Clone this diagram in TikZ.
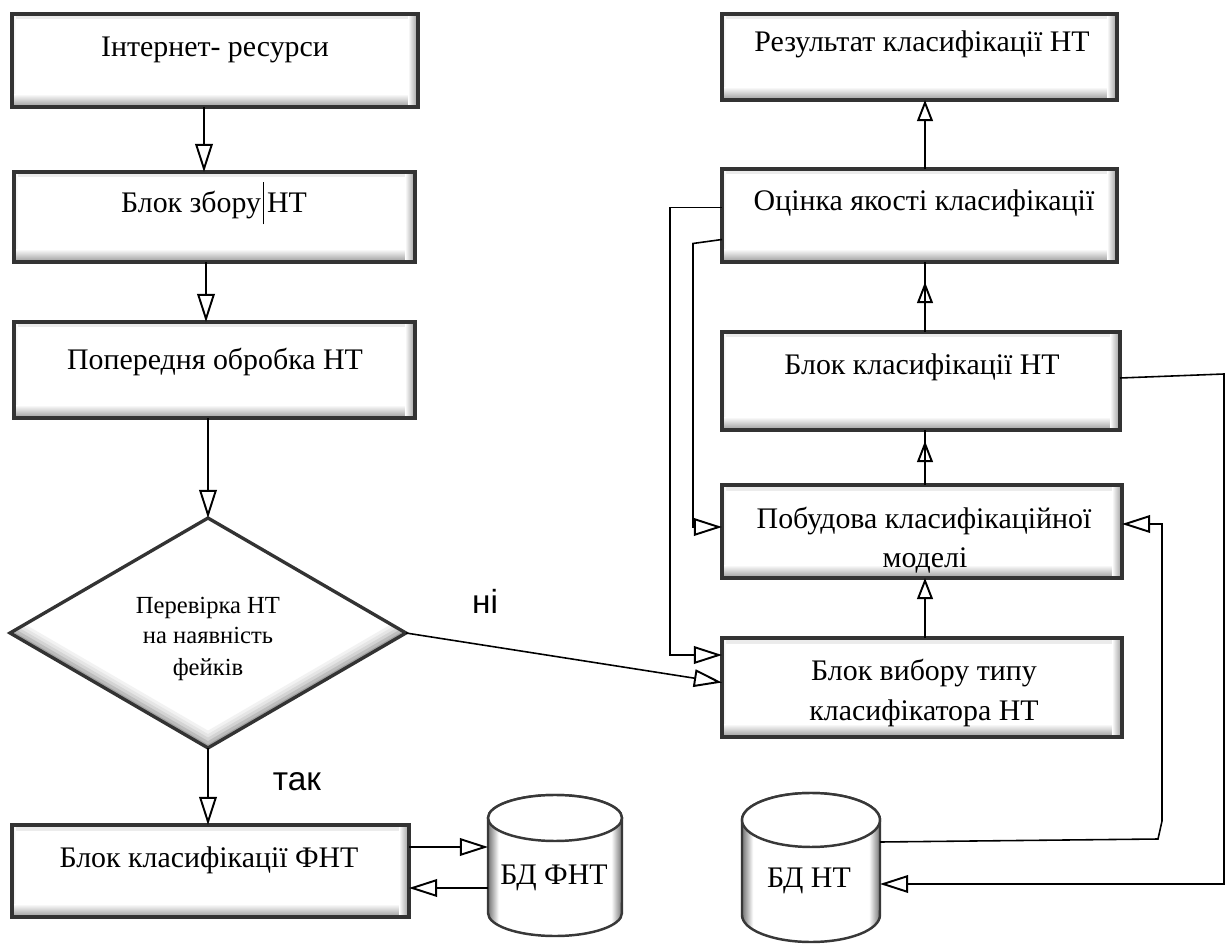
\documentclass[tikz,border=0pt]{standalone}
\usepackage{fontspec}
\setmainfont{Liberation Serif}
\newfontfamily\lblfont{Liberation Sans}
\usetikzlibrary{arrows.meta, shapes.geometric, fit}

% grey rims on both sides of a database drum
\pgfdeclarehorizontalshading{dbside}{100bp}{color(0bp)=(black!55); color(25bp)=(black!55); color(29bp)=(white); color(71bp)=(white); color(75bp)=(black!55); color(100bp)=(black!55)}

% drum outline around a node: #1 node, #2 x radius, #3 y radius of the lids
\newcommand\dbshape[3]{%
  \shadedraw[shading=dbside, draw=black!78, line width=1.4pt]
    ([yshift=-#3]#1.north west) -- ([yshift=#3]#1.south west)
    arc[start angle=180, end angle=360, x radius=#2, y radius=#3]
    -- ([yshift=-#3]#1.north east)
    arc[start angle=0, end angle=180, x radius=#2, y radius=#3] -- cycle;
  \filldraw[fill=white, draw=black!78, line width=1.4pt]
    ([yshift=-#3]#1.north) ellipse[x radius=#2, y radius=#3];
}

\begin{document}
\begin{tikzpicture}[x=0.02cm, y=-0.02cm,
  blk/.style={inner sep=0pt, outer sep=0pt, draw=black!80, line width=2pt, fill=white,
    path picture={
      \shade[top color=black!8, bottom color=white]
        (path picture bounding box.north west) rectangle ([yshift=-0.1cm]path picture bounding box.north east);
      \shade[left color=black!8, right color=white]
        (path picture bounding box.north west) rectangle ([xshift=0.08cm]path picture bounding box.south west);
      \shade[top color=white, bottom color=black!40]
        ([yshift=0.26cm]path picture bounding box.south west) rectangle (path picture bounding box.south east);
      \shade[left color=white, right color=black!40]
        ([xshift=-0.2cm]path picture bounding box.north east) rectangle (path picture bounding box.south east);
    }},
  dec/.style={diamond, inner sep=0pt, outer sep=0pt, draw=black!80, line width=1.9pt, fill=white,
    minimum width=7.92cm, minimum height=4.6cm,
    path picture={
      \foreach \w/\c in {0.6cm/5, 0.48cm/10, 0.36cm/17, 0.24cm/26, 0.12cm/36}
        \draw[line width=\w, black!\c]
          (path picture bounding box.west) -- (path picture bounding box.south) -- (path picture bounding box.east);
    }},
  dbnode/.style={inner sep=0pt, outer sep=0pt},
  txt/.style={anchor=base, inner sep=0pt, font=\fontsize{17}{20}\selectfont},
  dtxt/.style={anchor=base, inner sep=0pt, font=\fontsize{14}{17}\selectfont},
  lbl/.style={anchor=base, inner sep=0pt, font=\lblfont\fontsize{19}{22}\selectfont},
  con/.style={draw=black, line width=0.9pt},
  big/.style={-{Triangle[open, length=16pt, width=10pt, line width=1.1pt]}},
  sml/.style={-{Triangle[open, length=12pt, width=9pt, line width=1.1pt]}},
]
\useasboundingbox (0,0) rectangle (1232,946);

% ---- left column ----
\node[blk, fit={(12,14) (418,107)}] (net) {};
\node[blk, fit={(14,172) (415,262)}] (col) {};
\node[blk, fit={(14,322) (415,418)}] (pre) {};
\node[dec] (dia) at (208,633) {};
\node[blk, fit={(12,825) (409,917)}] (fnt) {};
\node[dbnode, fit={(488,795) (622,936)}] (dbf) {};
\dbshape{dbf}{1.34cm}{0.46cm}

% ---- right column ----
\node[blk, fit={(722,14) (1117,100)}] (res) {};
\node[blk, fit={(722,169) (1117,262)}] (qual) {};
\node[blk, fit={(722,332) (1120,430)}] (cls) {};
\node[blk, fit={(722,485) (1122,578)}] (mod) {};
\node[blk, fit={(722,638) (1122,737)}] (sel) {};
\node[dbnode, fit={(742,793) (880,942)}] (dbn) {};
\dbshape{dbn}{1.38cm}{0.54cm}

% ---- texts ----
\node[txt] (net-t) at (215,57) {Інтернет- ресурси};
\node[txt] (col-t) at (214,213) {Блок збору\kern1.2pt\rule[-6.5pt]{0.7pt}{24pt}\kern1.5ptНТ};
\node[txt] (pre-t) at (215,369) {Попередня обробка НТ};
\node[dtxt] (dia-t1) at (208,613) {Перевірка НТ};
\node[dtxt] (dia-t2) at (208,643) {на наявність};
\node[dtxt] (dia-t3) at (208,675) {фейків};
\node[txt] (fnt-t) at (209,867) {Блок класифікації ФНТ};
\node[txt] (dbf-t) at (554,884) {БД ФНТ};
\node[txt] (res-t) at (922,52) {Результат класифікації НТ};
\node[txt] (qual-t) at (924,211) {Оцінка якості класифікації};
\node[txt] (cls-t) at (922,375) {Блок класифікації НТ};
\node[txt] (mod-t1) at (924,528) {Побудова класифікаційної};
\node[txt] (mod-t2) at (925,567) {моделі};
\node[txt] (sel-t1) at (924,680) {Блок вибору типу};
\node[txt] (sel-t2) at (924,720) {класифікатора НТ};
\node[txt] (dbn-t) at (809,887) {БД НТ};
\node[lbl] (no) at (485,613) {ні};
\node[lbl] (yes) at (297,790) {так};

% ---- connectors: left column ----
\coordinate (xl) at (204,0);
\coordinate (xm) at (206,0);
\draw[con, big] (net.south -| xl) -- (col.north -| xl);
\draw[con, big] (col.south -| xm) -- (pre.north -| xm);
\draw[con, big] (pre.south -| dia.north) -- (dia.north);
\draw[con, big] (dia.south) -- (dia.south |- fnt.north);
\draw[con, big] (dia.east) -- ([yshift=0.1cm]sel.west);
\coordinate (f1) at ([yshift=0.48cm]fnt.east);
\coordinate (f2) at ([yshift=-0.34cm]fnt.east);
\draw[con, big] (f1) -- (f1 -| dbf.west);
\draw[con, big] (f2 -| dbf.west) -- (f2);

% ---- connectors: right column ----
\coordinate (xr) at (925,0);
\draw[con, sml] (sel.north -| xr) -- (mod.south -| xr);
\draw[con] (mod.north -| xr) -- (cls.south -| xr);
\draw[con, sml, shorten >=0.22cm] (mod.north -| xr) -- (cls.south -| xr);
\draw[con] (cls.north -| xr) -- (qual.south -| xr);
\draw[con, sml, shorten >=0.4cm] (cls.north -| xr) -- (qual.south -| xr);
\draw[con, sml] (qual.north -| xr) -- (res.south -| xr);

% feedback loops from the quality estimate
\draw[con, big] ([yshift=0.16cm]qual.west) -- ++(-52,0) |- ([yshift=0.65cm]sel.west);
\draw[con, big] ([yshift=-0.48cm]qual.west) -- ++(-29,4) |- ([yshift=0.09cm]mod.west);

% links with the news database
\draw[con, big] ([yshift=0.06cm]cls.east) -- ++(104,-4) |- ([yshift=-0.33cm]dbn.east);
\draw[con, big] ([yshift=0.51cm]dbn.east) -- ++(278,-3) -- ++(4,-18) |- ([yshift=0.15cm]mod.east);
\end{tikzpicture}
\end{document}
